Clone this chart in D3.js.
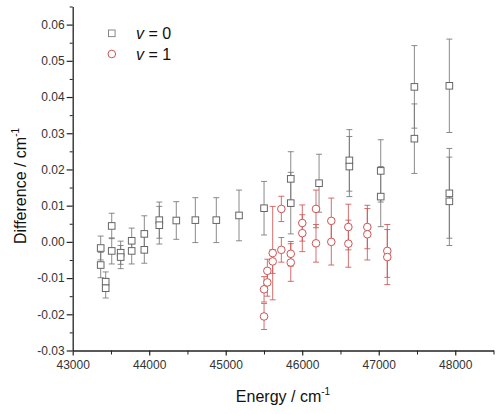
<!DOCTYPE html>
<html>
<head>
<meta charset="utf-8">
<script src="https://cdn.jsdelivr.net/npm/d3@7"></script>
<style>
  body { margin: 0; background: #fff; }
  text { font-family: "Liberation Sans", Arial, sans-serif; }
</style>
</head>
<body>
<div id="chart"></div>
<script>
// v = 0 series
const energy0 = [43366, 43366, 43431, 43431, 43510, 43510, 43627, 43627, 43771, 43771,
  43936, 43936, 44132, 44132, 44354, 44603, 44877, 45174, 45501, 45850, 45850,
  46220, 46616, 46616, 47026, 47026, 47466, 47466, 47923, 47923, 47923];
const diff0 = [-0.0017, -0.0064, -0.0110, -0.0128, 0.0044, -0.0025, -0.0030, -0.0042, 0.0003, -0.0025,
  0.0022, -0.0022, 0.0060, 0.0046, 0.0059, 0.0060, 0.0060, 0.0073, 0.0093, 0.0174, 0.0107,
  0.0162, 0.0225, 0.0208, 0.0196, 0.0125, 0.0428, 0.0285, 0.0431, 0.0134, 0.0112];
const err0 = [0.0033, 0.0035, 0.0027, 0.0027, 0.0035, 0.0036, 0.0032, 0.0032, 0.0035, 0.0036,
  0.0050, 0.0037, 0.0050, 0.0052, 0.0052, 0.0062, 0.0062, 0.0070, 0.0074, 0.0075, 0.0085,
  0.0080, 0.0085, 0.0083, 0.0086, 0.0083, 0.0114, 0.0096, 0.0129, 0.0124, 0.0122];

// v = 1 series
const energy1 = [45501, 45501, 45544, 45544, 45614, 45614, 45727, 45727, 45850, 45850,
  46001, 46001, 46180, 46180, 46380, 46380, 46603, 46603, 46851, 46851, 47112, 47112];
const diff1 = [-0.0131, -0.0206, -0.0080, -0.0112, -0.0031, -0.0054, 0.0091, -0.0022, -0.0033, -0.0057,
  0.0052, 0.0024, 0.0091, -0.0004, 0.0058, 0.0000, 0.0041, -0.0005, 0.0041, 0.0021, -0.0025, -0.0042];
const err1 = [0.0035, 0.0036, 0.0032, 0.0038, 0.0129, 0.0033, 0.0035, 0.0034, 0.0034, 0.0052,
  0.0050, 0.0051, 0.0052, 0.0052, 0.0063, 0.0064, 0.0063, 0.0065, 0.0060, 0.0071, 0.0073, 0.0076];

const xTicks = [43000, 44000, 45000, 46000, 47000, 48000];
const yTicks = [-0.03, -0.02, -0.01, 0.00, 0.01, 0.02, 0.03, 0.04, 0.05, 0.06];
const seriesLabels = ["0", "1"];

const width = 501, height = 414;

const svg = d3.select("#chart").append("svg")
  .attr("width", width)
  .attr("height", height);

const x = d3.scaleLinear().domain([43000, 48500]).range([72.7, 493.5]);
const y = d3.scaleLinear().domain([-0.03, 0.065]).range([350.5, 6.5]);

const fmt = d => d.toFixed(2);

// minor ticks
svg.append("g")
  .attr("transform", `translate(${x.range()[0]},0)`)
  .call(d3.axisLeft(y).tickValues(d3.range(-0.025, 0.066, 0.01)).tickSize(3).tickFormat(""))
  .call(g => g.select(".domain").remove())
  .selectAll("line").attr("stroke", "#222");
svg.append("g")
  .attr("transform", `translate(0,${y.range()[0]})`)
  .call(d3.axisBottom(x).tickValues(d3.range(43500, 48600, 1000)).tickSize(4).tickFormat(""))
  .call(g => g.select(".domain").remove())
  .selectAll("line").attr("stroke", "#222");

// main axes
const yAxis = svg.append("g")
  .attr("transform", `translate(${x.range()[0]},0)`)
  .call(d3.axisLeft(y).tickValues(yTicks).tickSize(6).tickSizeOuter(0).tickFormat(fmt));
const xAxis = svg.append("g")
  .attr("transform", `translate(0,${y.range()[0]})`)
  .call(d3.axisBottom(x).tickValues(xTicks).tickSize(5).tickSizeOuter(0).tickFormat(d3.format("d")));

[yAxis, xAxis].forEach(a => {
  a.select(".domain").attr("stroke", "#222").attr("stroke-width", 1.3);
  a.selectAll(".tick line").attr("stroke", "#222").attr("stroke-width", 1.2);
  a.selectAll(".tick text")
    .attr("fill", "#333")
    .style("font-size", "12px")
    .style("font-family", "'Liberation Sans', Arial, sans-serif");
});
yAxis.selectAll(".tick text").attr("x", -8);
xAxis.selectAll(".tick text").attr("y", 10);

// axis titles
const yTitle = svg.append("text")
  .attr("transform", "translate(26,186) rotate(-90)")
  .attr("text-anchor", "middle")
  .attr("fill", "#111")
  .style("font-size", "16px");
yTitle.append("tspan").text("Difference / cm");
yTitle.append("tspan").attr("dy", -7).style("font-size", "10px").text("-1");

const xTitle = svg.append("text")
  .attr("x", 283)
  .attr("y", 402)
  .attr("text-anchor", "middle")
  .attr("fill", "#111")
  .style("font-size", "16px");
xTitle.append("tspan").text("Energy / cm");
xTitle.append("tspan").attr("dy", -7).style("font-size", "10px").text("-1");

// data
const data0 = energy0.map((e, i) => ({ e, d: diff0[i], err: err0[i] }));
const data1 = energy1.map((e, i) => ({ e, d: diff1[i], err: err1[i] }));

const grey = "#666";
const red = "#cc5555";
const cap = 3;

function errorBars(data, color) {
  const g = svg.append("g").attr("stroke", color).attr("stroke-width", 1).attr("stroke-opacity", 0.85);
  g.selectAll("line.bar").data(data).join("line")
    .attr("x1", d => x(d.e)).attr("x2", d => x(d.e))
    .attr("y1", d => y(d.d - d.err)).attr("y2", d => y(d.d + d.err));
  g.selectAll("line.top").data(data).join("line").attr("class", "top")
    .attr("x1", d => x(d.e) - cap).attr("x2", d => x(d.e) + cap)
    .attr("y1", d => y(d.d + d.err)).attr("y2", d => y(d.d + d.err));
  g.selectAll("line.bot").data(data).join("line").attr("class", "bot")
    .attr("x1", d => x(d.e) - cap).attr("x2", d => x(d.e) + cap)
    .attr("y1", d => y(d.d - d.err)).attr("y2", d => y(d.d - d.err));
}

errorBars(data0, "#777");
errorBars(data1, red);

svg.append("g").selectAll("rect").data(data0).join("rect")
  .attr("x", d => x(d.e) - 3.3)
  .attr("y", d => y(d.d) - 3.3)
  .attr("width", 6.6).attr("height", 6.6)
  .attr("fill", "#fff").attr("stroke", grey).attr("stroke-width", 1);

svg.append("g").selectAll("circle").data(data1).join("circle")
  .attr("cx", d => x(d.e))
  .attr("cy", d => y(d.d))
  .attr("r", 3.8)
  .attr("fill", "#fff").attr("stroke", red).attr("stroke-width", 1);

// legend
const legend = svg.append("g");
legend.append("rect")
  .attr("x", 108.5).attr("y", 30).attr("width", 6.6).attr("height", 6.6)
  .attr("fill", "#fff").attr("stroke", "#888");
legend.append("circle")
  .attr("cx", 111.8).attr("cy", 54).attr("r", 3.8)
  .attr("fill", "#fff").attr("stroke", red);
seriesLabels.forEach((s, i) => {
  const t = legend.append("text")
    .attr("x", 136).attr("y", 39 + i * 21)
    .attr("fill", "#111")
    .style("font-size", "16px");
  t.append("tspan").style("font-style", "italic").text("v");
  t.append("tspan").text(" = " + s);
});
</script>
</body>
</html>
